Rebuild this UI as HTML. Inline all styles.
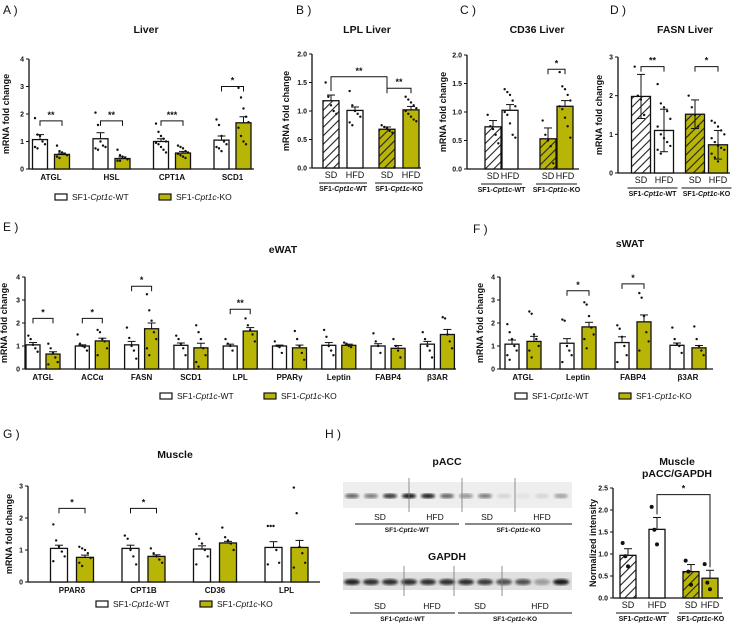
<!DOCTYPE html>
<html><head><meta charset="utf-8"><style>
body{margin:0;background:#fff}
svg{display:block;font-family:"Liberation Sans",sans-serif}
</style></head><body>
<svg id="fig" width="740" height="626" viewBox="0 0 740 626" xmlns="http://www.w3.org/2000/svg">
<defs>
<pattern id="hw" patternUnits="userSpaceOnUse" width="6" height="6" patternTransform="rotate(45)"><rect width="6" height="6" fill="#fff"/><line x1="0" y1="0" x2="0" y2="6" stroke="#222" stroke-width="2.2"/></pattern>
<pattern id="hk" patternUnits="userSpaceOnUse" width="6" height="6" patternTransform="rotate(45)"><rect width="6" height="6" fill="#b9b506"/><line x1="0" y1="0" x2="0" y2="6" stroke="#222" stroke-width="2.2"/></pattern>
<filter id="blur"><feGaussianBlur stdDeviation="1.2"/></filter>
</defs>
<g id="root"></g>
</svg>
<script>
// ---------- DATA ----------
const aCats=["ATGL","HSL","CPT1A","SCD1"];
const aWT=[1.07,1.1,1.0,1.05];
const aWTerr=[0.18,0.22,0.1,0.15];
const aKO=[0.53,0.38,0.58,1.68];
const aKOerr=[0.05,0.06,0.06,0.22];
const aWTpts=[[1.85,1.25,1.2,1.0,0.9,0.8,0.75],[2.05,1.6,1.0,0.85,0.8,0.75,0.7],[1.65,1.35,1.2,1.1,1.0,0.95,0.9,0.8,0.7,0.6],[1.8,1.6,1.2,1.0,0.9,0.8,0.75,0.65]];
const aKOpts=[[0.85,0.65,0.6,0.55,0.5,0.45,0.4],[0.7,0.5,0.45,0.4,0.35,0.3,0.3],[0.85,0.8,0.75,0.65,0.6,0.55,0.5,0.45,0.4],[2.95,2.6,2.2,1.9,1.7,1.5,1.2,1.0,0.9]];
const aSig=[["**",1.75],["**",1.75],["***",1.75],["*",3.0]];

const bVals=[1.18,1.01,0.68,1.02];
const bErr=[0.1,0.06,0.04,0.06];
const bPts=[[1.5,1.25,1.1,1.0,0.95],[1.35,1.1,1.0,0.95,0.9,0.8,0.75],[0.75,0.72,0.7,0.65,0.62],[1.25,1.2,1.15,1.1,1.05,1.0,0.95,0.9,0.85,0.82]];

const cVals=[0.74,1.03,0.53,1.10];
const cErr=[0.11,0.1,0.19,0.1];
const cPts=[[0.95,0.75,0.7,0.6,0.45],[1.4,1.35,1.3,1.2,1.1,1.0,0.95,0.8,0.6,0.55],[0.85,0.6,0.5,0.4,0.1],[1.7,1.45,1.4,1.3,1.2,1.1,1.05,0.9,0.75,0.55]];

const dVals=[1.98,1.1,1.52,0.73];
const dErr=[0.57,0.55,0.37,0.37];
const dPts=[[2.75,2.0,1.9,1.5],[2.3,1.8,1.7,1.6,1.4,1.2,1.0,0.9,0.8,0.7,0.6,0.5],[2.0,1.7,1.5,1.2],[1.35,1.3,1.2,1.1,1.0,0.9,0.8,0.7,0.65,0.6,0.5,0.4,0.3]];

const eCats=["ATGL","ACCα","FASN","SCD1","LPL","PPARγ","Leptin","FABP4","β3AR"];
const eWT=[1.05,1.0,1.05,1.03,1.0,1.0,1.03,1.0,1.08];
const eWTerr=[0.1,0.05,0.15,0.1,0.08,0.04,0.12,0.1,0.12];
const eKO=[0.65,1.22,1.75,0.92,1.65,0.92,1.03,0.9,1.5];
const eKOerr=[0.1,0.12,0.25,0.2,0.15,0.12,0.05,0.12,0.22];
const eWTpts=[[1.45,1.3,1.05,0.9,0.75],[1.5,1.1,1.0,0.95,0.8],[1.8,1.35,1.0,0.8,0.45],[1.45,1.3,1.1,0.9,0.6],[1.3,1.1,1.0,0.8],[1.2,1.0,0.95,0.7],[1.7,1.4,1.0,0.8,0.6],[1.55,1.2,1.0,0.7],[1.6,1.3,1.0,0.8,0.5]];
const eKOpts=[[1.1,0.9,0.7,0.5,0.3,0.2],[1.7,1.6,1.3,1.2,0.9,0.6],[3.25,2.55,2.1,1.6,1.3,0.9,0.6],[1.9,1.6,1.3,0.9,0.6,0.3,0.1],[2.2,1.9,1.7,1.5,1.2],[1.65,1.3,1.0,0.7,0.4],[1.15,1.1,1.0,0.95],[1.3,1.0,0.8,0.5],[2.25,2.2,1.5,1.2,0.9]];
const eSig=[["*",2.2,0],["*",2.2,1],["*",3.6,2],["**",2.6,4]];

const fCats=["ATGL","Leptin","FABP4","β3AR"];
const fWT=[1.08,1.12,1.15,1.03];
const fWTerr=[0.18,0.2,0.25,0.1];
const fKO=[1.2,1.83,2.05,0.92];
const fKOerr=[0.22,0.2,0.3,0.1];
const fWTpts=[[1.95,1.6,1.3,1.0,0.8,0.6,0.4],[2.15,2.1,1.0,0.8,0.6,0.3],[1.9,1.75,1.4,1.0,0.6,0.3],[1.8,1.3,1.1,1.0,0.7]];
const fKOpts=[[2.5,2.4,1.5,1.3,1.0,0.8,0.5],[2.9,2.8,2.3,1.8,1.5,1.3,0.9],[3.3,3.1,2.3,1.6,1.2,0.8],[1.85,1.3,1.0,0.8,0.6]];
const fSig=[["*",3.4,1],["*",3.7,2]];

const gCats=["PPARδ","CPT1B","CD36","LPL"];
const gWT=[1.05,1.05,1.03,1.08];
const gWTerr=[0.1,0.1,0.1,0.18];
const gKO=[0.77,0.8,1.22,1.08];
const gKOerr=[0.07,0.05,0.05,0.22];
const gWTpts=[[1.8,1.3,1.1,0.95,0.8,0.65],[1.45,1.35,1.0,0.8,0.55],[1.5,1.35,1.2,1.0,0.8,0.55],[1.75,1.75,1.75,1.0,0.6,0.55]];
const gKOpts=[[1.1,1.05,1.0,0.9,0.75,0.6,0.5],[1.05,0.9,0.8,0.7,0.6],[1.7,1.4,1.3,1.2,1.0],[2.95,2.15,1.1,0.9,0.6,0.45]];
const gSig=[["*",2.3,0],["*",2.3,1]];

const hVals=[0.97,1.56,0.6,0.45];
const hErr=[0.15,0.27,0.16,0.18];
const hPts=[[1.25,0.95,0.72],[2.07,1.55,1.22],[0.85,0.6,0.3],[0.77,0.35,0.2]];
const pAccBands=[0.6,0.5,0.8,0.95,0.9,0.6,0.4,0.5,0.1,0.05,0.1,0.3];
const gapdhBands=[0.9,0.85,0.85,0.85,0.85,0.85,0.85,0.8,0.7,0.7,0.35,0.95];

// ---------- HELPERS ----------
const NS="http://www.w3.org/2000/svg";
const root=document.getElementById('root');
const OLIVE="#b9b506";
function el(tag,attrs,parent,text){const e=document.createElementNS(NS,tag);for(const k in attrs)e.setAttribute(k,attrs[k]);if(text!==undefined)e.textContent=text;(parent||root).appendChild(e);return e;}
function txt(x,y,s,size,weight,parent,anchor,name){const t=el('text',{x:x,y:y,'font-size':size,'font-weight':weight||'normal','text-anchor':anchor||'middle',fill:'#111'},parent,s);


return t;}
function axes(g,o){
  const ys=v=>o.yBot-v/o.ymax*(o.yBot-o.yTop);
  el('line',{x1:o.x0,y1:o.yTop,x2:o.x0,y2:o.yBot,stroke:'#111','stroke-width':1.3},g);
  el('line',{x1:o.x0,y1:o.yBot,x2:o.x1,y2:o.yBot,stroke:'#111','stroke-width':1.3},g);
  o.ticks.forEach(t=>{const y=ys(t);el('line',{x1:o.x0-3,y1:y,x2:o.x0,y2:y,stroke:'#111','stroke-width':1},g);
    txt(o.x0-5,y+2.5,o.fmt?t.toFixed(o.fmt):String(t),7,'bold',g,'end','y-tick-label');});
  const yl=txt(0,0,o.ylabel||"mRNA fold change",9,'bold',g,'middle','y-axis-title');
  yl.setAttribute('transform',`translate(${o.ylx},${(o.yTop+o.yBot)/2}) rotate(-90)`);
  return ys;
}
function bar(g,ys,cx,w,v,e,fill,pts,name,sd){
  const b=el('rect',{x:cx-w/2,y:ys(v),width:w,height:ys(0)-ys(v),fill:fill,stroke:'#111','stroke-width':1.3},g);
  
  
  el('line',{x1:cx,y1:ys(v+e),x2:cx,y2:ys(sd?v-e:v),stroke:'#111','stroke-width':1},g);
  el('line',{x1:cx-4,y1:ys(v+e),x2:cx+4,y2:ys(v+e),stroke:'#111','stroke-width':1},g);
  if(sd)el('line',{x1:cx-4,y1:ys(v-e),x2:cx+4,y2:ys(v-e),stroke:'#111','stroke-width':1},g);
  pts.forEach((p,i)=>{const off=((i%5)-2)*(w/6);el('circle',{cx:cx+off,cy:ys(p),r:1.2,fill:'#111'},g);});
}
function bracket(g,ys,xa,xb,v,s,dropA,dropB){
  const y=ys(v);
  el('polyline',{points:`${xa},${dropA!==undefined?ys(dropA):y+5} ${xa},${y} ${xb},${y} ${xb},${dropB!==undefined?ys(dropB):y+5}`,fill:'none',stroke:'#111','stroke-width':1},g);
  txt((xa+xb)/2,y-3,s,9,'bold',g,'middle','significance-marker');
}
function legend(g,x,y){
  const a=el('rect',{x:x,y:y-6,width:12,height:6,fill:'#fff',stroke:'#111','stroke-width':1.2},g);
  
  const t1=el('text',{x:x+17,y:y,'font-size':8.5,fill:'#111'},g);
  
  t1.innerHTML='SF1-<tspan font-style="italic">Cpt1c</tspan>-WT';
  const b=el('rect',{x:x+104,y:y-6,width:12,height:6,fill:OLIVE,stroke:'#111','stroke-width':1.2},g);
  
  const t2=el('text',{x:x+121,y:y,'font-size':8.5,fill:'#111'},g);
  
  t2.innerHTML='SF1-<tspan font-style="italic">Cpt1c</tspan>-KO';
}
function groupLab(g,x1,x2,y,s,size){
  el('line',{x1:x1,y1:y-8,x2:x2,y2:y-8,stroke:'#111','stroke-width':1},g);
  const t=el('text',{x:(x1+x2)/2,y:y,'font-size':size||7,'font-weight':'bold','text-anchor':'middle',fill:'#111'},g);
  
  t.innerHTML='SF1-<tspan font-style="italic">Cpt1c</tspan>-'+s;
}
function panel(name){const g=el('g',{},root);return g;}
function grouped(g,o,cats,wt,wte,ko,koe,wtp,kop,x0c,step,off,w){
  const ys=axes(g,o);
  cats.forEach((c,i)=>{const cx=x0c+i*step;
    bar(g,ys,cx-off,w,wt[i],wte[i],'#fff',wtp[i],'bar-wt-'+c,false);
    bar(g,ys,cx+off,w,ko[i],koe[i],OLIVE,kop[i],'bar-ko-'+c,false);
    txt(cx,o.yBot+11,c,8,'bold',g,'middle','x-tick-label');});
  return ys;
}
function quad(g,o,vals,err,pts,xs,w,sd){
  const ys=axes(g,o);
  const fills=['url(#hw)','#fff','url(#hk)',OLIVE];
  const names=['bar-wt-sd','bar-wt-hfd','bar-ko-sd','bar-ko-hfd'];
  vals.forEach((v,i)=>bar(g,ys,xs[i],w,v,err[i],fills[i],pts[i],names[i],sd));
  ['SD','HFD','SD','HFD'].forEach((s,i)=>txt(xs[i],o.yBot+10,s,9,'normal',g,'middle','x-tick-label'));
  groupLab(g,xs[0]-w/2-4,xs[1]+w/2+4,o.yBot+23,'WT');
  groupLab(g,xs[2]-w/2-4,xs[3]+w/2+4,o.yBot+23,'KO');
  return ys;
}

// panel letters
[["A )",3,14],["B )",296,14],["C )",460,14],["D )",610,14],["E )",3,231],["F )",473,233],["G )",3,438],["H )",325,438]].forEach(p=>txt(p[1],p[2],p[0],12,'normal',root,'start','panel-letter'));

// A
{const g=panel('panel-a-liver');txt(146,33,'Liver',10.5,'bold',g,'middle','chart-title');
const o={x0:29,x1:254,yTop:59,yBot:169,ymax:4,ticks:[0,1,2,3,4],ylx:9};
const ys=grouped(g,o,aCats,aWT,aWTerr,aKO,aKOerr,aWTpts,aKOpts,51,60.5,11,15);
aSig.forEach((s,i)=>bracket(g,ys,51+i*60.5-11,51+i*60.5+11,s[1],s[0]));
legend(g,55,200);}
// B
{const g=panel('panel-b-lpl-liver');txt(367,33,'LPL Liver',10.5,'bold',g,'middle','chart-title');
const o={x0:312,x1:421,yTop:54,yBot:168,ymax:2,ticks:[0,0.5,1,1.5,2],fmt:1,ylx:289};
const xs=[331,355,387,411];const ys=quad(g,o,bVals,bErr,bPts,xs,16,false);
bracket(g,ys,xs[0],(xs[2]+xs[3])/2-12,1.6,'**',1.35,1.4);bracket(g,ys,xs[2],xs[3],1.4,'**');}
// C
{const g=panel('panel-c-cd36-liver');txt(537,33,'CD36 Liver',10.5,'bold',g,'middle','chart-title');
const o={x0:467,x1:579,yTop:55,yBot:169,ymax:2,ticks:[0,0.5,1,1.5,2],fmt:1,ylx:446};
const xs=[493,510,548,565];const ys=quad(g,o,cVals,cErr,cPts,xs,16,false);
bracket(g,ys,xs[2],xs[3],1.75,'*');}
// D
{const g=panel('panel-d-fasn-liver');txt(685,33,'FASN Liver',10.5,'bold',g,'middle','chart-title');
const o={x0:618,x1:730,yTop:57,yBot:173,ymax:3,ticks:[0,1,2,3],ylx:602};
const xs=[641,664,695,718];const ys=quad(g,o,dVals,dErr,dPts,xs,19,true);
bracket(g,ys,xs[0],xs[1],2.75,'**');bracket(g,ys,xs[2],xs[3],2.75,'*');}
// E
{const g=panel('panel-e-ewat');txt(283,253,'eWAT',10.5,'bold',g,'middle','chart-title');
const o={x0:25,x1:456,yTop:277,yBot:369,ymax:4,ticks:[0,1,2,3,4],ylx:7};
const ys=grouped(g,o,eCats,eWT,eWTerr,eKO,eKOerr,eWTpts,eKOpts,43,49.3,10,14);
eSig.forEach(s=>bracket(g,ys,43+s[2]*49.3-10,43+s[2]*49.3+10,s[1],s[0]));
legend(g,160,399);}
// F
{const g=panel('panel-f-swat');txt(630,247,'sWAT',10.5,'bold',g,'middle','chart-title');
const o={x0:500,x1:713,yTop:277,yBot:369,ymax:4,ticks:[0,1,2,3,4],ylx:483};
const ys=grouped(g,o,fCats,fWT,fWTerr,fKO,fKOerr,fWTpts,fKOpts,523,55,11,14);
fSig.forEach(s=>bracket(g,ys,523+s[2]*55-11,523+s[2]*55+11,s[1],s[0]));
legend(g,515,399);}
// G
{const g=panel('panel-g-muscle');txt(175,458,'Muscle',10.5,'bold',g,'middle','chart-title');
const o={x0:28,x1:320,yTop:486,yBot:582,ymax:3,ticks:[0,1,2,3],ylx:12};
const ys=grouped(g,o,gCats,gWT,gWTerr,gKO,gKOerr,gWTpts,gKOpts,72,71.5,13,17);
gSig.forEach(s=>bracket(g,ys,72+s[2]*71.5-13,72+s[2]*71.5+13,s[1],s[0]));
legend(g,96,607);}
// H blots
{const g=panel('panel-h-western-blot');
txt(447,465,'pACC',10.5,'bold',g,'middle','blot-title');
el('rect',{x:343,y:482,width:229,height:26,fill:'#eeeeee'},g);
pAccBands.forEach((b,i)=>el('ellipse',{cx:352+i*19,cy:496,rx:7,ry:2.5,fill:'#111','fill-opacity':b,filter:'url(#blur)'},g));
[409,462,515].forEach(x=>el('line',{x1:x,y1:478,x2:x,y2:512,stroke:'#777','stroke-width':0.8},g));
[[380,'SD'],[435,'HFD'],[487,'SD'],[542,'HFD']].forEach(p=>txt(p[0],520,p[1],8.5,'normal',g,'middle','lane-label'));
groupLab(g,355,459,532,'WT',6.5);groupLab(g,465,572,532,'KO',6.5);
txt(447,560,'GAPDH',10.5,'bold',g,'middle','blot-title');
el('rect',{x:343,y:572,width:229,height:18,fill:'#e0e0e0'},g);
gapdhBands.forEach((b,i)=>el('ellipse',{cx:352+i*19,cy:582,rx:8,ry:3,fill:'#111','fill-opacity':b,filter:'url(#blur)'},g));
[404,454,502].forEach(x=>el('line',{x1:x,y1:566,x2:x,y2:596,stroke:'#777','stroke-width':0.8},g));
[[380,'SD'],[432,'HFD'],[480,'SD'],[540,'HFD']].forEach(p=>txt(p[0],609,p[1],8.5,'normal',g,'middle','lane-label'));
groupLab(g,350,455,621,'WT',6.5);groupLab(g,458,572,621,'KO',6.5);}
// H chart
{const g=panel('panel-h-pacc-gapdh');txt(677,465,'Muscle',10.5,'bold',g,'middle','chart-title');txt(677,477,'pACC/GAPDH',10.5,'bold',g,'middle','chart-title');
const o={x0:613,x1:723,yTop:488,yBot:598,ymax:2.5,ticks:[0,0.5,1,1.5,2,2.5],fmt:1,ylx:596,ylabel:'Normalized intensity'};
const xs=[628,657,691,710];const ys=quad(g,o,hVals,hErr,hPts,xs,16,false);
g.querySelectorAll('circle').forEach(c=>c.setAttribute('r',2));
bracket(g,ys,xs[1],xs[3],2.35,'*',1.9,0.7);}
</script>
</body></html>
